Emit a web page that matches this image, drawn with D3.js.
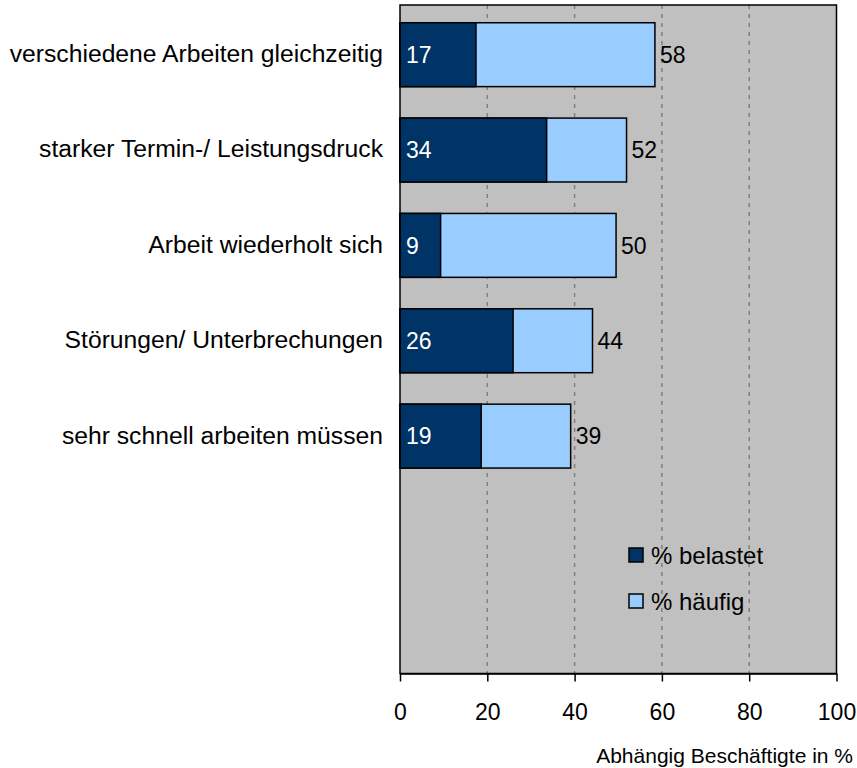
<!DOCTYPE html>
<html>
<head>
<meta charset="utf-8">
<script src="https://cdn.jsdelivr.net/npm/d3@7"></script>
<style>
  body { margin: 0; background: #fff; }
  text { font-family: "Liberation Sans", Arial, sans-serif; }
</style>
</head>
<body>
<svg id="chart" width="857" height="768"></svg>
<script>
// Daten
const categories = [
  "verschiedene Arbeiten gleichzeitig",
  "starker Termin-/ Leistungsdruck",
  "Arbeit wiederholt sich",
  "Störungen/ Unterbrechungen",
  "sehr schnell arbeiten müssen",
  "", " "   // leere Zeilen unten
];
const belastet = [17.4, 33.6, 9.3, 25.9, 18.6];
const haeufig = [58.4, 51.9, 49.5, 44.1, 39.1];
const xTicks = [0, 20, 40, 60, 80, 100];
const seriesNames = ["% belastet", "% häufig"];

const darkColor = "#003366";
const lightColor = "#99CCFF";

const svg = d3.select("#chart");
const plotLeft = 400, plotRight = 836.5, plotTop = 5, plotBottom = 673.5;

const x = d3.scaleLinear().domain([0, 100]).range([plotLeft, plotRight]);
const y = d3.scaleBand().domain(categories).range([plotTop + 2, plotBottom + 1]).paddingInner(0.33).paddingOuter(0.165);

// Hintergrund
svg.append("rect")
  .attr("x", plotLeft).attr("y", plotTop)
  .attr("width", plotRight - plotLeft).attr("height", plotBottom - plotTop)
  .attr("fill", "#C0C0C0");

// Gitterlinien
svg.selectAll(".grid")
  .data(xTicks.filter(d => d > 0 && d < 100))
  .enter().append("line")
  .attr("x1", d => x(d)).attr("x2", d => x(d))
  .attr("y1", plotTop).attr("y2", plotBottom)
  .attr("stroke", "#808080")
  .attr("stroke-width", 1.5)
  .attr("stroke-dasharray", "4,5");

const rows = categories.slice(0, belastet.length).map((c, i) => ({cat: c, b: belastet[i], h: haeufig[i]}));

// hellblauer Balken (häufig)
svg.selectAll(".light")
  .data(rows)
  .enter().append("rect")
  .attr("x", x(0))
  .attr("y", d => y(d.cat))
  .attr("width", d => x(d.h) - x(0))
  .attr("height", y.bandwidth())
  .attr("fill", lightColor)
  .attr("stroke", "#000")
  .attr("stroke-width", 1.5);

// dunkelblauer Balken (belastet)
svg.selectAll(".dark")
  .data(rows)
  .enter().append("rect")
  .attr("x", x(0))
  .attr("y", d => y(d.cat))
  .attr("width", d => x(d.b) - x(0))
  .attr("height", y.bandwidth())
  .attr("fill", darkColor)
  .attr("stroke", "#000")
  .attr("stroke-width", 1.5);

// Werte
svg.selectAll(".lblIn")
  .data(rows)
  .enter().append("text")
  .attr("x", x(0) + 6)
  .attr("y", d => y(d.cat) + y.bandwidth() / 2)
  .attr("dy", "0.36em")
  .attr("fill", "#fff")
  .attr("font-size", 23)
  .text(d => Math.round(d.b));

svg.selectAll(".lblOut")
  .data(rows)
  .enter().append("text")
  .attr("x", d => x(d.h) + 5)
  .attr("y", d => y(d.cat) + y.bandwidth() / 2)
  .attr("dy", "0.36em")
  .attr("fill", "#000")
  .attr("font-size", 23)
  .text(d => Math.round(d.h));

// Kategorien
svg.selectAll(".cat")
  .data(rows)
  .enter().append("text")
  .attr("x", 383)
  .attr("y", d => y(d.cat) + y.bandwidth() / 2)
  .attr("dy", "0.3em")
  .attr("text-anchor", "end")
  .attr("font-size", 24.7)
  .text(d => d.cat);

// Rahmen
svg.append("rect")
  .attr("x", plotLeft).attr("y", plotTop)
  .attr("width", plotRight - plotLeft).attr("height", plotBottom - plotTop)
  .attr("fill", "none")
  .attr("stroke", "#000")
  .attr("stroke-width", 1.5);

// x-Achse
const xAxis = d3.axisBottom(x).tickValues(xTicks).tickSize(8).tickSizeOuter(0);
const gx = svg.append("g")
  .attr("transform", `translate(0,${plotBottom})`)
  .call(xAxis);
gx.select(".domain").attr("stroke", "#000").attr("stroke-width", 1.5);
gx.selectAll(".tick line").attr("stroke", "#000").attr("stroke-width", 1.5);
gx.selectAll(".tick text")
  .attr("font-size", 23)
  .attr("font-family", "Liberation Sans, Arial, sans-serif")
  .attr("fill", "#000")
  .attr("y", 46)
  .attr("dy", "0");

svg.append("text")
  .attr("x", 853)
  .attr("y", 763)
  .attr("text-anchor", "end")
  .attr("font-size", 21)
  .text("Abhängig Beschäftigte in %");

// Legende
const legend = svg.append("g");
const legendColors = [darkColor, lightColor];
seriesNames.forEach((name, i) => {
  const ly = 548 + i * 46;
  legend.append("rect")
    .attr("x", 629).attr("y", ly)
    .attr("width", 14).attr("height", 14)
    .attr("fill", legendColors[i])
    .attr("stroke", "#000")
    .attr("stroke-width", 1.5);
  legend.append("text")
    .attr("x", 651).attr("y", ly + 15.5)
    .attr("font-size", 24)
    .text(name);
});
</script>
</body>
</html>
